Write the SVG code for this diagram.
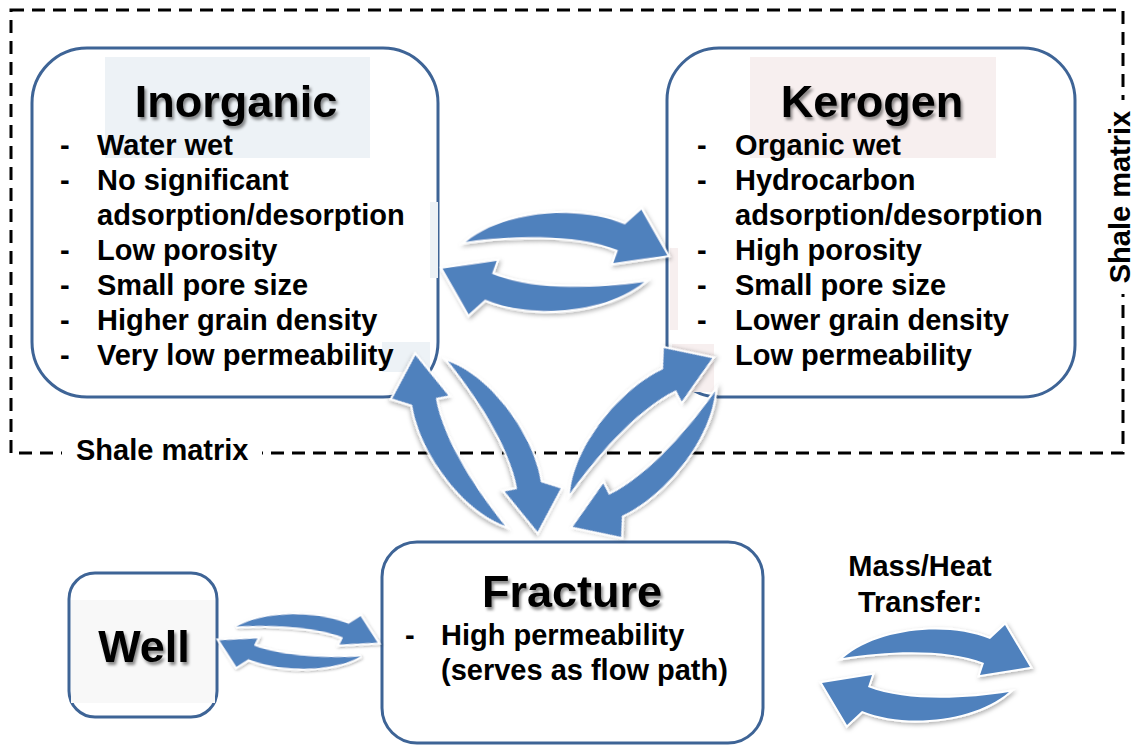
<svg xmlns="http://www.w3.org/2000/svg" xmlns:xlink="http://www.w3.org/1999/xlink" width="1135" height="746" viewBox="0 0 1135 746">
<style>
.box{fill:#fff;stroke:#3E6496;stroke-width:3}
.t{font-family:"Liberation Sans",Arial,sans-serif;font-weight:bold;fill:#000}
.title{font-size:45px}
.item{font-size:29px}
.dash{fill:none;stroke:#000;stroke-width:3;stroke-dasharray:13 8}
.arr{fill:#4F81BD;stroke:#fff;stroke-width:4;stroke-linejoin:miter;paint-order:stroke}
.bl{fill:#EDF2F6}
.pk{fill:#F7EFEF}
</style>
<defs>
<filter id="tsh" x="-10%" y="-20%" width="130%" height="160%">
<feDropShadow dx="2" dy="3" stdDeviation="1.5" flood-color="#000" flood-opacity="0.45"/>
</filter>
<filter id="ash" x="-20%" y="-30%" width="140%" height="160%">
<feDropShadow dx="1.5" dy="2" stdDeviation="2" flood-color="#000" flood-opacity="0.3"/>
</filter>
<path id="pair" vector-effect="non-scaling-stroke" d="M -83,-17 C -50,-46 20,-54 64,-36 L 79,-50 L 104,-8 L 54,0 L 58,-12 C 20,-27 -40,-24 -83,-17 Z M 83,17 C 50,46 -20,54 -64,36 L -79,50 L -104,8 L -54,0 L -58,12 C -20,27 40,24 83,17 Z"/>
</defs>
<rect width="1135" height="746" fill="#fff"/>

<g id="shale-matrix">
<rect class="dash" x="11" y="10" width="1112" height="443"/>
<rect x="62" y="438" width="200" height="30" fill="#fff"/>
<text class="t item" x="76" y="460">Shale matrix</text>
<rect x="1104" y="100" width="31" height="194" fill="#fff"/>
<text class="t item" text-anchor="middle" transform="translate(1130,197) rotate(-90)">Shale matrix</text>
</g>

<g id="inorganic">
<rect class="box" x="32" y="48" width="406" height="349" rx="55" ry="55"/>
<rect class="bl" x="105" y="57" width="265" height="101"/>
<rect class="bl" x="430" y="202" width="8" height="76"/>
<rect class="bl" x="382" y="342" width="48" height="30"/>
<text class="t title" x="236" y="117" text-anchor="middle" filter="url(#tsh)">Inorganic</text>
<g class="t item">
<text x="60" y="155">-</text><text x="97" y="155">Water wet</text>
<text x="60" y="190">-</text><text x="97" y="190">No significant</text>
<text x="97" y="225">adsorption/desorption</text>
<text x="60" y="260">-</text><text x="97" y="260">Low porosity</text>
<text x="60" y="295">-</text><text x="97" y="295">Small pore size</text>
<text x="60" y="330">-</text><text x="97" y="330">Higher grain density</text>
<text x="60" y="365">-</text><text x="97" y="365">Very low permeability</text>
</g>
</g>

<g id="kerogen">
<rect class="box" x="667" y="48" width="408" height="349" rx="52" ry="52"/>
<rect class="pk" x="750" y="57" width="246" height="101"/>
<rect class="pk" x="670" y="248" width="8" height="82"/>
<rect class="pk" x="672" y="344" width="42" height="48"/>
<text class="t title" x="872" y="117" text-anchor="middle" filter="url(#tsh)">Kerogen</text>
<g class="t item">
<text x="697" y="155">-</text><text x="735" y="155">Organic wet</text>
<text x="697" y="190">-</text><text x="735" y="190">Hydrocarbon</text>
<text x="735" y="225">adsorption/desorption</text>
<text x="697" y="260">-</text><text x="735" y="260">High porosity</text>
<text x="697" y="295">-</text><text x="735" y="295">Small pore size</text>
<text x="697" y="330">-</text><text x="735" y="330">Lower grain density</text>
<text x="697" y="365">-</text><text x="735" y="365">Low permeability</text>
</g>
</g>

<g id="fracture">
<rect class="box" x="382" y="542" width="381" height="201" rx="35" ry="35"/>
<text class="t title" x="572" y="607" text-anchor="middle" filter="url(#tsh)">Fracture</text>
<g class="t item">
<text x="405" y="645">-</text><text x="441" y="645">High permeability</text>
<text x="441" y="680">(serves as flow path)</text>
</g>
</g>

<g id="well">
<rect class="box" x="69" y="573" width="148" height="144" rx="26" ry="26"/>
<rect x="71" y="600" width="144" height="103" fill="#F8F8F8"/>
<text class="t title" x="144" y="662" text-anchor="middle" filter="url(#tsh)">Well</text>
</g>

<g id="legend">
<text class="t item" x="920" y="576" text-anchor="middle">Mass/Heat</text>
<text class="t item" x="920" y="612" text-anchor="middle">Transfer:</text>
</g>

<g id="connectors">
<use href="#pair" class="arr" filter="url(#ash)" transform="translate(555,262) rotate(1.1) scale(1.08)"/>
<use href="#pair" class="arr" filter="url(#ash)" transform="translate(298.5,641.5) rotate(4.3) scale(0.76,0.6)"/>
<use href="#pair" class="arr" filter="url(#ash)" transform="translate(476.5,443.5) rotate(59.6) scale(1.03,1)"/>
<use href="#pair" class="arr" filter="url(#ash)" transform="translate(642.5,442.5) rotate(-46.2) scale(1.05,1)"/>
<use href="#pair" class="arr" filter="url(#ash)" transform="translate(926,675)"/>
</g>
</svg>
